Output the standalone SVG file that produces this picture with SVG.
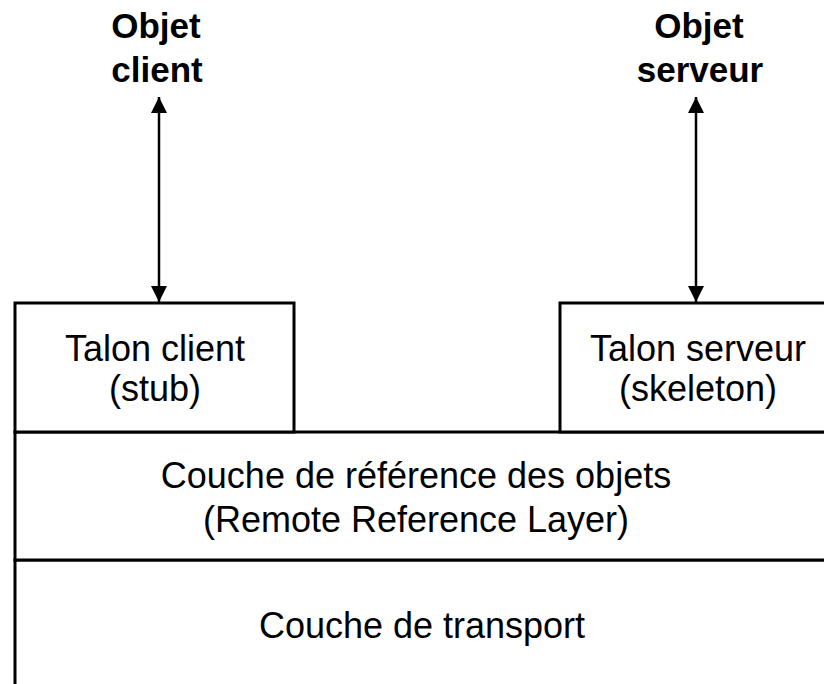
<svg xmlns="http://www.w3.org/2000/svg" width="824" height="684" viewBox="0 0 824 684">
  <defs>
    <style>
      .box { fill: #ffffff; stroke: #000000; stroke-width: 3; }
      .lbl { font-family: "Liberation Sans", Arial, sans-serif; font-size: 36px; fill: #000000; text-anchor: middle; }
      .obj { font-family: "Liberation Sans", Arial, sans-serif; font-size: 35px; font-weight: bold; fill: #000000; text-anchor: middle; }
      .link { stroke: #000000; stroke-width: 2.5; fill: none; marker-start: url(#head); marker-end: url(#head); }
    </style>
    <marker id="head" viewBox="0 0 16 16" refX="16" refY="8" markerWidth="16" markerHeight="16" markerUnits="userSpaceOnUse" orient="auto-start-reverse">
      <path d="M0,0 L16,8 L0,16 Z" fill="#000000"/>
    </marker>
  </defs>
  <rect width="824" height="684" fill="#ffffff"/>

  <!-- Transport layer (bottom) -->
  <g id="transport">
    <rect class="box" x="15" y="560" width="820" height="140"/>
    <text class="lbl" x="422" y="638">Couche de transport</text>
  </g>

  <!-- Remote reference layer -->
  <g id="reference">
    <rect class="box" x="15" y="432" width="820" height="128"/>
    <text class="lbl" x="416" y="488">Couche de référence des objets</text>
    <text class="lbl" x="416" y="532">(Remote Reference Layer)</text>
  </g>

  <!-- Client stub -->
  <g id="stub">
    <rect class="box" x="15" y="303" width="279" height="129"/>
    <text class="lbl" x="155" y="361">Talon client</text>
    <text class="lbl" x="155" y="401">(stub)</text>
  </g>

  <!-- Server skeleton -->
  <g id="skeleton">
    <rect class="box" x="560" y="303" width="280" height="129"/>
    <text class="lbl" x="698" y="361">Talon serveur</text>
    <text class="lbl" x="698" y="401">(skeleton)</text>
  </g>

  <!-- Client object -->
  <g id="client">
    <text class="obj" x="156" y="38">Objet</text>
    <text class="obj" x="157" y="82">client</text>
  </g>

  <!-- Server object -->
  <g id="server">
    <text class="obj" x="699" y="38">Objet</text>
    <text class="obj" x="700" y="82">serveur</text>
  </g>

  <!-- Connectors -->
  <g id="connectors">
    <line class="link" x1="159" y1="97" x2="159" y2="302"/>
    <line class="link" x1="696" y1="97" x2="696" y2="302"/>
  </g>
</svg>
